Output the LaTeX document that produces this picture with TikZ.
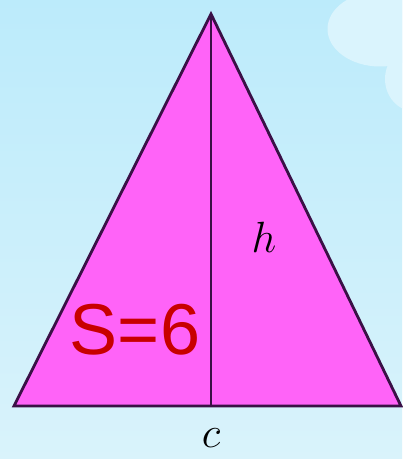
\documentclass[tikz,border=0pt]{standalone}
\usepackage{fontspec}
\newfontfamily\labelfont{Liberation Sans}
\definecolor{skytop}{HTML}{BCEBFB}
\definecolor{skybot}{HTML}{D9F3FB}
\definecolor{cloudc}{HTML}{DAF4FD}
\definecolor{trifill}{HTML}{FF63F8}
\definecolor{triline}{HTML}{3A1046}
\definecolor{areared}{HTML}{C80000}
\begin{document}
\begin{tikzpicture}
    % background sky
    \useasboundingbox (0,0) rectangle (8.04,9.18);
    \shade[top color=skytop,bottom color=skybot] (0,0) rectangle (8.04,9.18);

    % cloud
    \begin{scope}
      \clip (0,0) rectangle (8.04,9.18);
      \fill[cloudc] (7.6,8.6) ellipse (1.05 and 0.75);
      \fill[cloudc] (8.3,7.6) ellipse (0.6 and 0.65);
    \end{scope}

    % triangle
    \coordinate (A) at (4.22,8.90);
    \coordinate (B) at (0.28,1.06);
    \coordinate (C) at (8.02,1.06);
    \coordinate (H) at (4.22,1.06);
    \draw[line width=1.6pt, line join=miter, color=triline, fill=trifill] (B) -- (A) -- (C) -- cycle;
    \draw[line width=1.6pt, color=triline] (A) -- (H);

    % labels
    \node[font=\fontsize{36}{36}\selectfont] (hlab) at (5.28,4.44) {\(h\)};
    \node[font=\labelfont\fontsize{41}{41}\selectfont, text=areared] (area) at (2.70,2.58) {S=6};
    \node[font=\fontsize{26}{26}\selectfont, inner sep=0pt] (clab) at (4.22,0.42) {\(c\)};
\end{tikzpicture}
\end{document}
